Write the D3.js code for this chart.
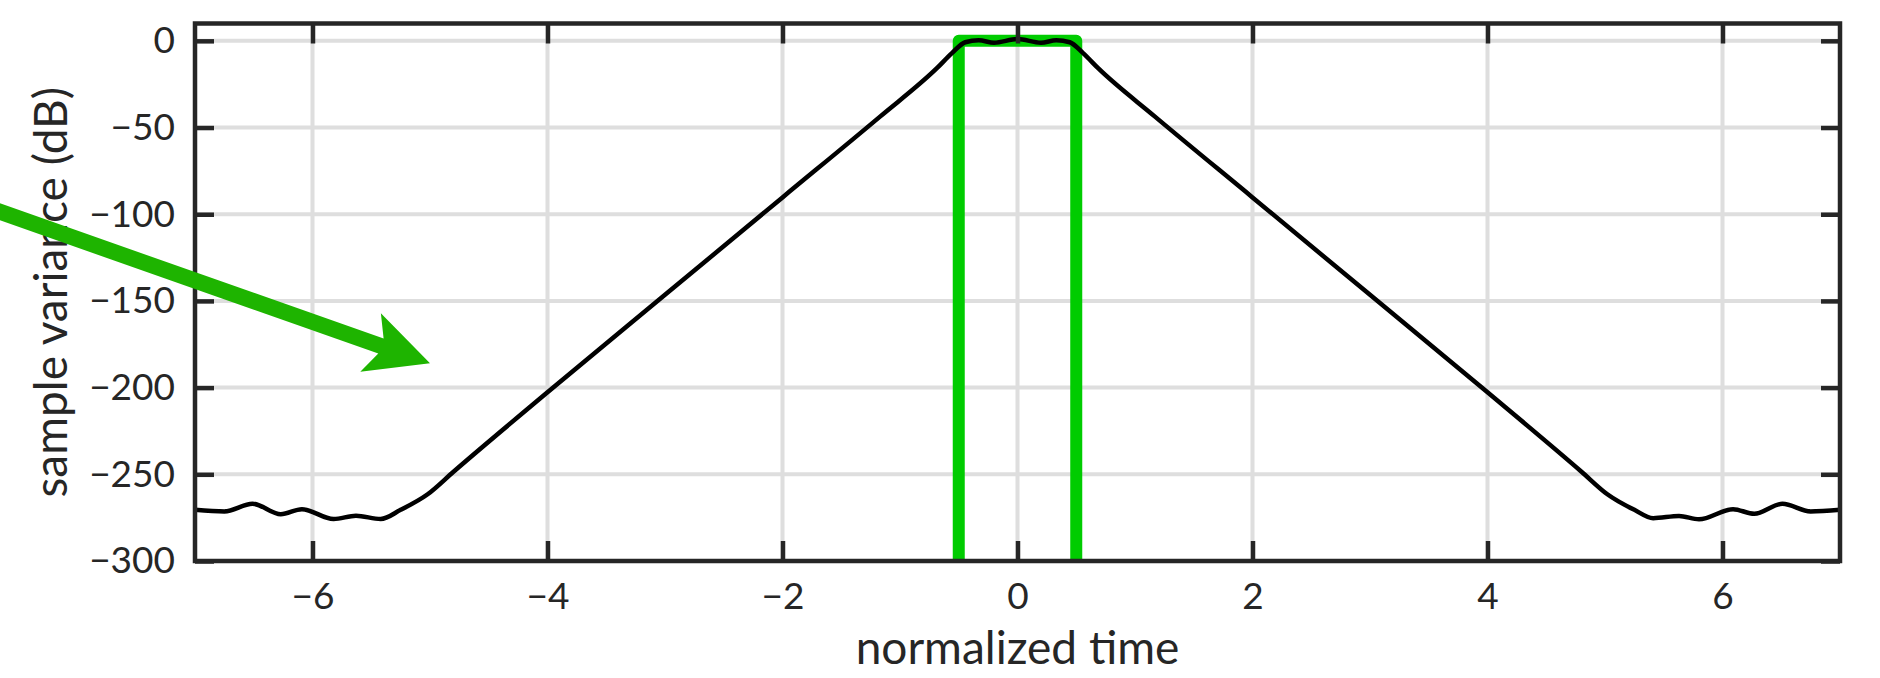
<!DOCTYPE html>
<html>
<head>
<meta charset="utf-8">
<script src="https://cdn.jsdelivr.net/npm/d3@7"></script>
<style>
  body { margin: 0; background: #fff; }
  svg text { font-family: Lato, "Open Sans", sans-serif; fill: #262626; }
</style>
</head>
<body>
<div id="chart"></div>
<script>
// ---- data ----
// normalized time / sample variance (dB) of the black curve
const timeVals = [-7.0, -6.75, -6.51, -6.27, -6.09, -5.82, -5.63, -5.42, -5.25, -5.02, -4.80,
    -4.0, -3.0, -2.0, -1.17, -0.686, -0.558, -0.445, -0.33, -0.2, 0.0,
    0.2, 0.33, 0.445, 0.558, 0.686, 1.17, 2.0, 3.0, 4.0, 4.80, 5.02, 5.25,
    5.41, 5.63, 5.80, 6.09, 6.27, 6.51, 6.75, 7.0];
const varianceVals = [-270.5, -271.4, -267.0, -273.0, -270.1, -275.8, -273.9, -275.8, -270.5, -261.5, -248.5,
    -202.7, -146.5, -90.3, -43.7, -15.8, -7.1, -0.8, 0.4, -1.1, 1.0,
    -1.1, 0.4, -0.8, -7.1, -15.8, -43.7, -90.3, -146.5, -202.7, -248.5, -261.5, -270.5,
    -275.3, -274.0, -275.9, -270.1, -272.8, -267.0, -271.4, -270.5];

// green rectangular pulse
const pulseTime = [-0.5, -0.5, 0.5, 0.5];
const pulseLevel = [-300, 0, 0, -300];

// green annotation arrow (tail, tip) in data units
const arrowTail = [-9.0, -90.5];
const arrowTip = [-5.0, -186];

const xTicks = [-6, -4, -2, 0, 2, 4, 6];
const yTicks = [-300, -250, -200, -150, -100, -50, 0];
const xLabel = "normalized time";
const yLabel = "sample variance (dB)";

// ---- layout ----
const W = 1880, H = 678;
const margin = { top: 23.5, right: 40, bottom: 117, left: 195 };
const w = W - margin.left - margin.right;
const h = H - margin.top - margin.bottom;
const ink = "#262626";

const svg = d3.select("#chart").append("svg")
    .attr("width", W)
    .attr("height", H);

const g = svg.append("g")
    .attr("transform", `translate(${margin.left},${margin.top})`);

const x = d3.scaleLinear().domain([-7, 7]).range([0, w]);
const y = d3.scaleLinear().domain([-300, 10]).range([h, 0]);

// grid
g.append("g").selectAll("line")
    .data(xTicks)
    .join("line")
    .attr("x1", d => x(d)).attr("x2", d => x(d))
    .attr("y1", 0).attr("y2", h)
    .attr("stroke", "#dedede").attr("stroke-width", 4);

g.append("g").selectAll("line")
    .data(yTicks.filter(d => d > -300))
    .join("line")
    .attr("x1", 0).attr("x2", w)
    .attr("y1", d => y(d)).attr("y2", d => y(d))
    .attr("stroke", "#dedede").attr("stroke-width", 4);

// pulse
const pulse = pulseTime.map((t, i) => [t, pulseLevel[i]]);
g.append("path")
    .datum(pulse)
    .attr("fill", "none")
    .attr("stroke", "#00cc00")
    .attr("stroke-width", 12)
    .attr("stroke-linejoin", "round")
    .attr("d", d3.line().x(d => x(d[0])).y(d => y(d[1])));

// curve
const curve = timeVals.map((t, i) => [t, varianceVals[i]]);
g.append("path")
    .datum(curve)
    .attr("fill", "none")
    .attr("stroke", "#000")
    .attr("stroke-width", 4.5)
    .attr("stroke-linejoin", "round")
    .attr("d", d3.line().curve(d3.curveMonotoneX).x(d => x(d[0])).y(d => y(d[1])));

// axes (ticks inward, box on)
function styleAxis(sel) {
    sel.select(".domain").remove();
    sel.selectAll(".tick line").attr("stroke", ink).attr("stroke-width", 4.5);
    sel.selectAll(".tick text").style("font-size", "37px").attr("fill", ink);
}

g.append("g")
    .attr("transform", `translate(0,${h})`)
    .call(d3.axisBottom(x).tickValues(xTicks).tickSizeInner(-20).tickSizeOuter(0).tickPadding(22))
    .call(styleAxis);

g.append("g")
    .call(d3.axisTop(x).tickValues(xTicks).tickSizeInner(-20).tickSizeOuter(0).tickFormat(""))
    .call(styleAxis);

g.append("g")
    .call(d3.axisLeft(y).tickValues(yTicks).tickSizeInner(-19).tickSizeOuter(0).tickPadding(20))
    .call(styleAxis);

g.append("g")
    .attr("transform", `translate(${w},0)`)
    .call(d3.axisRight(y).tickValues(yTicks).tickSizeInner(-19).tickSizeOuter(0).tickFormat(""))
    .call(styleAxis);

g.append("rect")
    .attr("width", w).attr("height", h)
    .attr("fill", "none")
    .attr("stroke", ink)
    .attr("stroke-width", 4.5);

// labels
g.append("text")
    .attr("x", w / 2)
    .attr("y", h + 103)
    .attr("text-anchor", "middle")
    .style("font-size", "46px")
    .text(xLabel);

g.append("text")
    .attr("transform", `translate(${67 - margin.left},${h / 2}) rotate(-90)`)
    .attr("text-anchor", "middle")
    .style("font-size", "46px")
    .text(yLabel);

// arrow annotation
const p0 = [x(arrowTail[0]), y(arrowTail[1])];
const p1 = [x(arrowTip[0]), y(arrowTip[1])];
const len = Math.hypot(p1[0] - p0[0], p1[1] - p0[1]);
const ux = (p1[0] - p0[0]) / len, uy = (p1[1] - p0[1]) / len;
const nx = uy, ny = -ux; // perpendicular
const headLen = 63, headHalf = 31, notch = 52, shaftHalf = 8;
const pt = (a, b) => [p1[0] - a * ux + b * nx, p1[1] - a * uy + b * ny];
const arrowPts = [
    [p0[0] + shaftHalf * nx, p0[1] + shaftHalf * ny],
    pt(notch, shaftHalf),
    pt(headLen, headHalf),
    p1,
    pt(headLen, -headHalf),
    pt(notch, -shaftHalf),
    [p0[0] - shaftHalf * nx, p0[1] - shaftHalf * ny]
];
g.append("path")
    .attr("d", "M" + arrowPts.map(p => p.join(",")).join("L") + "Z")
    .attr("fill", "#1eb400");
</script>
</body>
</html>
